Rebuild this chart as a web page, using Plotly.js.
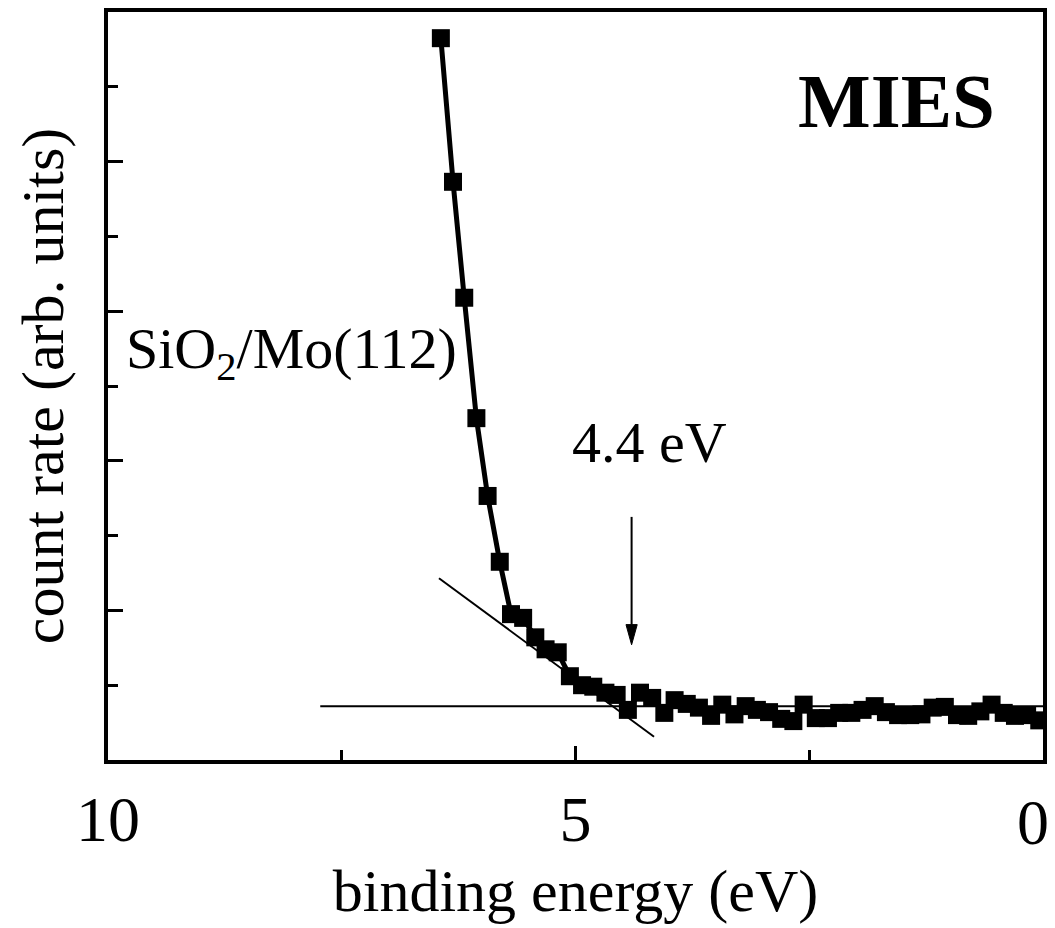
<!DOCTYPE html>
<html>
<head>
<meta charset="utf-8">
<script src="https://cdn.plot.ly/plotly-3.0.1.min.js"></script>
<style>
  html, body { margin: 0; padding: 0; background: #fff; }
  #chart { width: 1055px; height: 928px; }
</style>
</head>
<body>
<div id="chart"></div>
<script>
// MIES spectrum of SiO2/Mo(112): count rate vs binding energy
const bindingEnergy = [
  6.44, 6.31, 6.19, 6.06, 5.94, 5.81, 5.69, 5.56, 5.43, 5.32,
  5.19, 5.06, 4.93, 4.81, 4.68, 4.56, 4.44, 4.31, 4.18, 4.05,
  3.94, 3.81, 3.68, 3.55, 3.43, 3.30, 3.18, 3.06, 2.93, 2.80,
  2.67, 2.56, 2.43, 2.30, 2.18, 2.05, 1.93, 1.80, 1.68, 1.55,
  1.42, 1.30, 1.18, 1.05, 0.92, 0.80, 0.67, 0.55, 0.42, 0.30,
  0.17, 0.04
];
const countRate = [
  9.65, 7.73, 6.18, 4.57, 3.53, 2.65, 1.95, 1.90, 1.64, 1.48,
  1.44, 1.12, 1.00, 0.98, 0.90, 0.87, 0.67, 0.90, 0.83, 0.63,
  0.80, 0.75, 0.70, 0.59, 0.74, 0.61, 0.72, 0.67, 0.64, 0.55,
  0.52, 0.74, 0.56, 0.56, 0.63, 0.63, 0.67, 0.72, 0.64, 0.60,
  0.60, 0.61, 0.70, 0.71, 0.60, 0.59, 0.65, 0.74, 0.63, 0.59,
  0.60, 0.53
];

// Linear extrapolation of the leading edge and the background level
const edgeFitX = [6.46, 4.16];
const edgeFitY = [2.43, 0.31];
const baseFitX = [7.73, 0.0];
const baseFitY = [0.72, 0.72];

// Onset marker
const onsetEnergy = 4.4;
const onsetLabel = '4.4 eV';
const arrowTopY = 3.25;
const arrowTipY = 1.54;

// x tick labels; the one at the right end sits flush with the frame
const xTickVals = [10, 5, 0];
const xTickText = ['10', '5', ''];
const xEndTickVal = 0;
const xEndTickText = '0';

const serif = 'Liberation Serif, Times New Roman, serif';
const tickFontSize = 64;

// arrowhead geometry in axis units
const headLen = 0.27;
const headHalfW = 0.06;

const traces = [
  {
    x: edgeFitX, y: edgeFitY, mode: 'lines',
    line: { color: '#000', width: 2 }, hoverinfo: 'skip', showlegend: false
  },
  {
    x: baseFitX, y: baseFitY, mode: 'lines',
    line: { color: '#000', width: 2 }, hoverinfo: 'skip', showlegend: false
  },
  {
    x: bindingEnergy, y: countRate, mode: 'lines+markers',
    line: { color: '#000', width: 5 },
    marker: { symbol: 'square', size: 18, color: '#000' },
    showlegend: false
  }
];

const headPath = 'M ' + onsetEnergy + ' ' + arrowTipY +
  ' L ' + (onsetEnergy - headHalfW) + ' ' + (arrowTipY + headLen) +
  ' L ' + (onsetEnergy + headHalfW) + ' ' + (arrowTipY + headLen) + ' Z';

const layout = {
  width: 1055, height: 928,
  margin: { l: 108, r: 12, t: 12, b: 168 },
  paper_bgcolor: '#fff', plot_bgcolor: '#fff',
  font: { family: serif, color: '#000' },
  xaxis: {
    range: [10, 0], autorange: false,
    tickmode: 'array', tickvals: xTickVals, ticktext: xTickText,
    ticks: 'inside', ticklen: 14, tickwidth: 3, tickcolor: '#000',
    minor: { tickvals: [7.5, 2.5], ticks: 'inside', ticklen: 10, tickwidth: 3, tickcolor: '#000' },
    tickfont: { family: serif, size: tickFontSize, color: '#000' },
    ticklabelstandoff: 0,
    showgrid: false, zeroline: false,
    showline: true, linecolor: '#000', linewidth: 4, mirror: true,
    title: { text: 'binding energy (eV)', font: { family: serif, size: 60, color: '#000' }, standoff: 16 }
  },
  yaxis: {
    range: [0, 10], autorange: false,
    tickmode: 'linear', tick0: 0, dtick: 2,
    ticks: 'inside', ticklen: 15, tickwidth: 3, tickcolor: '#000',
    minor: { dtick: 1, ticks: 'inside', ticklen: 10, tickwidth: 3, tickcolor: '#000' },
    showticklabels: false,
    showgrid: false, zeroline: false,
    showline: true, linecolor: '#000', linewidth: 4, mirror: true,
    title: { text: 'count rate (arb. units)', font: { family: serif, size: 60, color: '#000' }, standoff: 22 }
  },
  shapes: [
    {
      type: 'line', xref: 'x', yref: 'y',
      x0: onsetEnergy, x1: onsetEnergy, y0: arrowTopY, y1: arrowTipY + headLen,
      line: { color: '#000', width: 2 }
    },
    {
      type: 'path', xref: 'x', yref: 'y', path: headPath,
      fillcolor: '#000', line: { color: '#000', width: 1 }
    }
  ],
  annotations: [
    {
      text: '<b>MIES</b>', xref: 'x', yref: 'y', x: 1.57, y: 8.81,
      xanchor: 'center', yanchor: 'middle', showarrow: false,
      font: { family: serif, size: 77, color: '#000' }
    },
    {
      text: 'SiO<sub>2</sub>/Mo(112)', xref: 'x', yref: 'y', x: 9.83, y: 5.45,
      xanchor: 'left', yanchor: 'middle', showarrow: false,
      font: { family: serif, size: 58, color: '#000' }
    },
    {
      text: onsetLabel, xref: 'x', yref: 'y', x: 5.06, y: 4.25,
      xanchor: 'left', yanchor: 'middle', showarrow: false,
      font: { family: serif, size: 58, color: '#000' }
    },
    {
      text: xEndTickText, xref: 'x', yref: 'paper', x: xEndTickVal, y: 0,
      xanchor: 'right', yanchor: 'middle', xshift: 8, yshift: -62,
      showarrow: false,
      font: { family: serif, size: tickFontSize, color: '#000' }
    }
  ]
};

Plotly.newPlot('chart', traces, layout, { staticPlot: true, displayModeBar: false });
</script>
</body>
</html>
